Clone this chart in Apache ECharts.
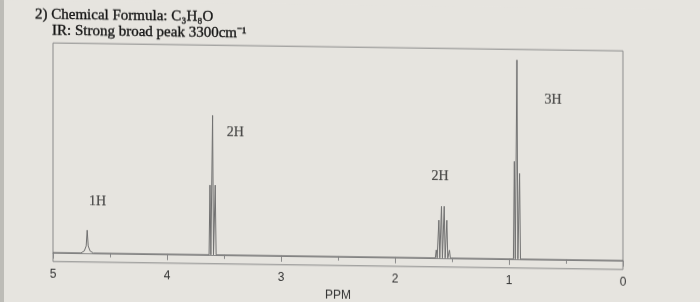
<!DOCTYPE html>
<html>
<head>
<meta charset="utf-8">
<script src="https://cdn.jsdelivr.net/npm/echarts@6/dist/echarts.min.js"></script>
<style>
  html, body { margin:0; padding:0; background:#e6e4df; overflow:hidden; }
  #chart { width:700px; height:302px; transform: skewY(0.8deg); transform-origin: 0 0; }
</style>
</head>
<body>
<div id="chart"></div>
<script>
// ---- data ----
const titleLines = ['2) Chemical Formula: C\u2083H\u2088O', 'IR: Strong broad peak 3300cm\u207B\u00B9'];
const axisTitle = 'PPM';
// broad OH peak profile (ppm, height)
const broadPpm    = [4.755, 4.726, 4.709, 4.70, 4.691, 4.674, 4.645];
const broadHeight = [0,     1,     3.5,   11.5, 3.5,   1,     0];
// sharp resonance lines (ppm) and their heights (tallest = 100)
const linePpm    = [3.623, 3.60, 3.577, 1.638, 1.615, 1.592, 1.568, 1.545, 1.522, 0.953, 0.93, 0.907];
const lineHeight = [35,    70,   35,    4,     19,    26,    26,    19,    4,     49,    100,  43];
const lineHalfWidth = 0.008;
// integration labels
const integLabels = ['1H', '2H', '2H', '3H'];
const integPpm    = [4.61, 3.40, 1.605, 0.614];
const integY      = [26, 61.7, 41, 80];

// build the spectrum trace: baseline, broad peak, then each sharp line
const spectrum = [[5, 0]];
for (let i = 0; i < broadPpm.length; i++) spectrum.push([broadPpm[i], broadHeight[i]]);
for (let i = 0; i < linePpm.length; i++) {
  spectrum.push([linePpm[i] + lineHalfWidth, 0]);
  spectrum.push([linePpm[i], lineHeight[i]]);
  spectrum.push([linePpm[i] - lineHalfWidth, 0]);
}
spectrum.push([0, 0]);

const labelData = integLabels.map((t, i) => ({ name: t, value: [integPpm[i], integY[i]] }));

const titleStyle = { fontFamily: 'Liberation Serif', fontSize: 15, fontWeight: 'normal', color: '#151515',
  textBorderColor: '#151515', textBorderWidth: 0.35 };

const chart = echarts.init(document.getElementById('chart'), null, { renderer: 'canvas' });
chart.setOption({
  backgroundColor: '#e6e4df',
  animation: false,
  title: [
    { text: titleLines[0], left: 35, top: 7, padding: 0, textStyle: titleStyle },
    { text: titleLines[1], left: 52, top: 23, padding: 0, textStyle: titleStyle }
  ],
  graphic: [
    { type: 'rect', left: 0, top: -10, shape: { width: 4, height: 330 }, style: { fill: '#bdbcb7' }, silent: true }
  ],
  grid: { left: 53, right: 77, top: 42.2, bottom: 41.2, show: true, borderColor: '#8a8a8a', borderWidth: 1, backgroundColor: 'transparent' },
  xAxis: {
    type: 'value', min: 0, max: 5, interval: 1, inverse: true,
    name: axisTitle, nameLocation: 'middle', nameGap: 19,
    nameTextStyle: { fontFamily: 'Liberation Sans', fontSize: 12, color: '#333333' },
    axisLine: { show: true, lineStyle: { color: '#8a8a8a', width: 1 } },
    axisTick: { show: true, length: 6, lineStyle: { color: '#8a8a8a' } },
    minorTick: { show: true, splitNumber: 2, length: 4, lineStyle: { color: '#8a8a8a' } },
    axisLabel: { margin: 7, fontFamily: 'Liberation Sans', fontSize: 12, color: '#333333' },
    splitLine: { show: false }
  },
  yAxis: { type: 'value', min: -4.5, max: 105.3, show: false, splitLine: { show: false } },
  series: [
    { type: 'line', data: spectrum, showSymbol: false, symbol: 'none',
      lineStyle: { color: '#707070', width: 1 }, silent: true },
    { type: 'scatter', data: labelData, symbolSize: 0, silent: true,
      label: { show: true, position: 'inside', formatter: '{b}',
        fontFamily: 'Liberation Serif', fontSize: 14, color: '#262626',
        textBorderColor: '#262626', textBorderWidth: 0.2 } }
  ]
});
</script>
</body>
</html>
